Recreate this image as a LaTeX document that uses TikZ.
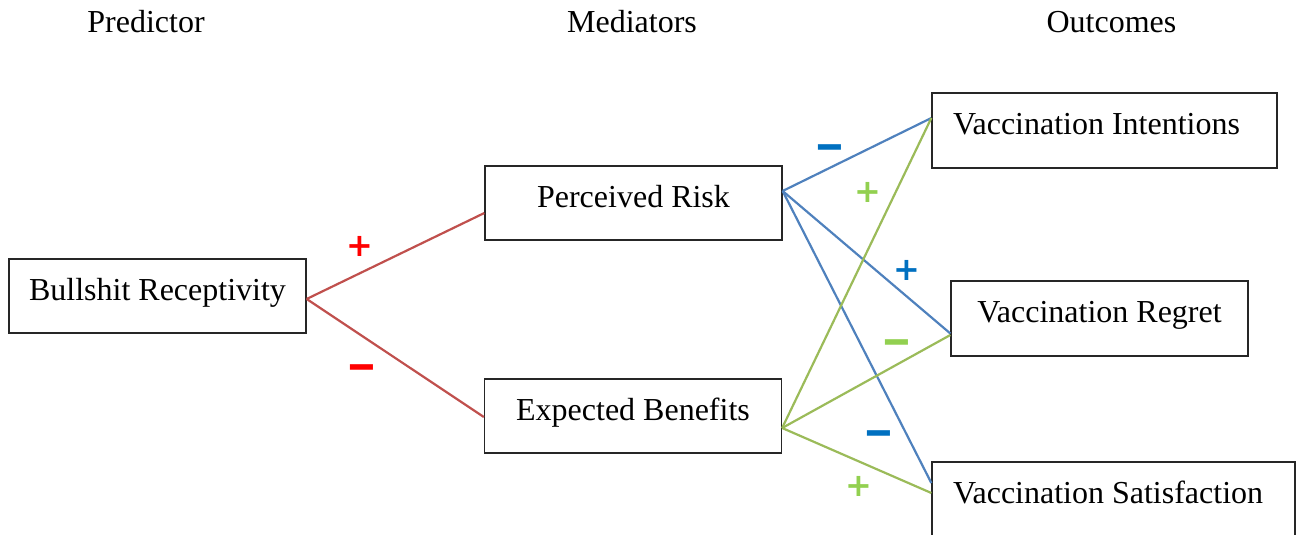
\documentclass[tikz,border=0pt]{standalone}
\usepackage{graphicx}
\usepackage{fontspec}
\setmainfont{Liberation Serif}
\newfontfamily\signfont{DejaVu Sans}
\definecolor{lred}{RGB}{192,80,77}
\definecolor{lblue}{RGB}{79,129,189}
\definecolor{lgreen}{RGB}{155,187,89}
\definecolor{sred}{RGB}{255,0,0}
\definecolor{sblue}{RGB}{0,112,192}
\definecolor{sgreen}{RGB}{146,208,80}
\newcommand{\minussign}{\scalebox{1.15}[1.5]{−}}
\begin{document}
\begin{tikzpicture}[x=1pt,y=-1pt,
  box/.style={draw=black!85, line width=1.3pt, minimum height=74pt, inner sep=0pt,
    text height=24pt, text depth=16pt, font=\fontsize{32}{38}\selectfont},
  lbox/.style={box, inner xsep=21pt, align=flush left},
  title/.style={anchor=base, inner sep=0pt, font=\fontsize{32}{38}\selectfont},
  conn/.style={line width=2.2pt},
  redline/.style={conn, draw=lred},
  blueline/.style={conn, draw=lblue},
  greenline/.style={conn, draw=lgreen},
  sign/.style={inner sep=0pt, font=\signfont\bfseries\fontsize{32}{36}\selectfont},
  minus/.style={sign, yshift=-8pt}
]
\useasboundingbox (0,0) rectangle (1299,535);
\clip (0,0) rectangle (1299,535);

% titles
\node[title] (tp) at (146,33) {Predictor};
\node[title] (tm) at (632,33) {Mediators};
\node[title] (to) at (1111.5,33) {Outcomes};

% boxes
\node[box, minimum width=297pt] (br) at (157.5,296) {Bullshit Receptivity};
\node[box, minimum width=297pt] (pr) at (633.5,203) {Perceived Risk};
\node[box, minimum width=297pt] (eb) at (633,416) {Expected Benefits};
\node[lbox, minimum width=345pt, text width=303pt, minimum height=75pt] (vi) at (1104.5,130.5) {Vaccination Intentions};
\node[box, minimum width=297pt, minimum height=75pt] (vr) at (1099.5,318.5) {Vaccination Regret};
\node[lbox, minimum width=363pt, text width=321pt, minimum height=75pt] (vs) at (1113.5,499.5) {Vaccination Satisfaction};

% connectors
\draw[redline] ([yshift=-3pt]br.east) -- ([yshift=-10pt]pr.west);
\draw[redline] ([yshift=-3pt]br.east) -- ([yshift=-1pt]eb.west);
\draw[blueline] ([yshift=12pt]pr.east) -- ([yshift=12.5pt]vi.west);
\draw[blueline] ([yshift=12pt]pr.east) -- ([yshift=-15pt]vr.west);
\draw[blueline] ([yshift=12pt]pr.east) -- ([yshift=16.5pt]vs.west);
\draw[greenline] ([yshift=-12pt]eb.east) -- ([yshift=12.5pt]vi.west);
\draw[greenline] ([yshift=-12pt]eb.east) -- ([yshift=-16.5pt]vr.west);
\draw[greenline] ([yshift=-12pt]eb.east) -- ([yshift=6.5pt]vs.west);

% signs
\node[sign, text=sred] (s1) at (360,246) {+};
\node[minus, text=sred] (s2) at (362,366) {\minussign};
\node[minus, text=sblue] (s3) at (830,146) {\minussign};
\node[sign, text=sgreen] (s4) at (868,192) {+};
\node[sign, text=sblue] (s5) at (907,270) {+};
\node[minus, text=sgreen] (s6) at (897,341) {\minussign};
\node[minus, text=sblue] (s7) at (879,432) {\minussign};
\node[sign, text=sgreen] (s8) at (859,486) {+};
\end{tikzpicture}
\end{document}
